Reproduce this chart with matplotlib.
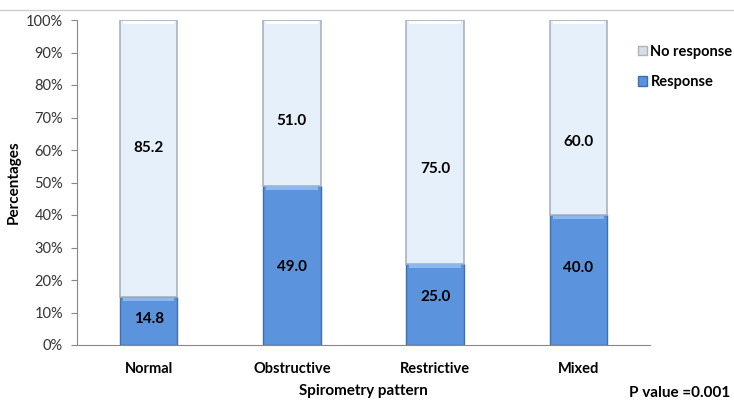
import matplotlib.pyplot as plt
from matplotlib.lines import Line2D
from matplotlib.patches import Rectangle

plt.rcParams['font.family'] = ['Lato', 'DejaVu Sans']

categories = ["Normal", "Obstructive", "Restrictive", "Mixed"]
response = [14.8, 49.0, 25.0, 40.0]
no_response = [85.2, 51.0, 75.0, 60.0]
yticks = [0, 10, 20, 30, 40, 50, 60, 70, 80, 90, 100]

# where the value labels sit inside each segment (percent height)
response_label_y = [8.0, 24.0, 14.8, 23.7]
no_response_label_y = [60.6, 68.9, 54.2, 62.5]

blue = "#5B93DC"
blue_edge = "#3F6FB0"
pale = "#E6F0FB"
pale_edge = "#A9B3BF"

fig = plt.figure(figsize=(7.34, 4.0), dpi=100)
ax = fig.add_axes([77 / 734, 55 / 400, 573 / 734, 325 / 400])

x = list(range(len(categories)))
width = 0.4

ax.bar(x, response, width, color=blue, edgecolor=blue_edge, linewidth=1.0, zorder=2)
ax.bar(x, no_response, width, bottom=response, color=pale, edgecolor=pale_edge,
       linewidth=1.2, zorder=2)

# bevel highlights along the top of each segment
for xi, r, n, ry, ny in zip(x, response, no_response, response_label_y, no_response_label_y):
    ax.add_patch(Rectangle((xi - width / 2 + 0.02, r - 1.2), width - 0.04, 1.0,
                           color="#8DB8EE", zorder=3, linewidth=0))
    ax.add_patch(Rectangle((xi - width / 2 + 0.02, r + n - 1.2), width - 0.04, 1.0,
                           color="#FFFFFF", zorder=3, linewidth=0))
    ax.text(xi, ry, f"{r:.1f}", ha="center", va="center", fontsize=11,
            fontweight="bold", color="black", zorder=4)
    ax.text(xi, ny, f"{n:.1f}", ha="center", va="center", fontsize=11,
            fontweight="bold", color="black", zorder=4)

ax.set_xlim(-0.5, len(categories) - 0.5)
ax.set_ylim(0, 100)
ax.set_yticks(yticks)
ax.set_yticklabels([f"{t}%" for t in yticks], fontsize=10.5, color="#333333")
ax.set_xticks(x)
ax.set_xticklabels(categories, fontsize=10.5, fontweight="bold")
ax.tick_params(axis="x", length=0, pad=12)
ax.tick_params(axis="y", length=4, color="#888888", direction="out", pad=6)

for side in ["top", "right"]:
    ax.spines[side].set_visible(False)
ax.spines["left"].set_color("#888888")
ax.spines["bottom"].set_color("#888888")

ax.set_ylabel("Percentages", fontsize=11, fontweight="bold", labelpad=4)
fig.text(363 / 734, 1 - 391 / 400, "Spirometry pattern", ha="center", va="center",
         fontsize=11, fontweight="bold")

handles = [Rectangle((0, 0), 1, 1, facecolor="#D8DEE6", edgecolor="#A9B3BF"),
           Rectangle((0, 0), 1, 1, facecolor=blue, edgecolor=blue_edge)]
fig.legend(handles, ["No response", "Response"], loc="upper left",
           bbox_to_anchor=(638 / 734, 1 - 45 / 400), frameon=False,
           handlelength=0.6, handleheight=0.6, handletextpad=0.25,
           labelspacing=1.1, borderaxespad=0, borderpad=0,
           prop={"weight": "bold", "size": 10.5})

fig.text(730 / 734, 1 - 393 / 400, "P value =0.001", ha="right", va="center",
         fontsize=11, fontweight="bold")

fig.add_artist(Line2D([0, 1], [1 - 10 / 400, 1 - 10 / 400], color="#CCCCCC",
                      linewidth=1.0))

fig.savefig("out.png", dpi=100)
